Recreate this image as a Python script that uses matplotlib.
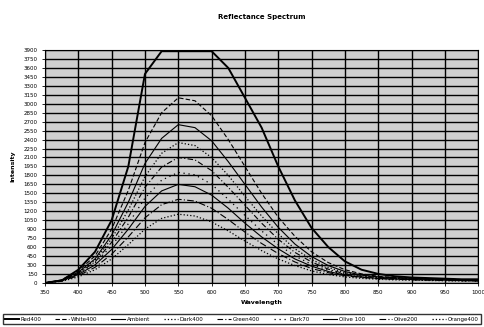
import matplotlib
matplotlib.use('Agg')
import matplotlib.pyplot as plt

# wavelength samples (nm)
wavelength = [350, 375, 400, 425, 450, 475, 500, 525, 550, 575, 600, 625, 650, 675,
              700, 725, 750, 775, 800, 825, 850, 875, 900, 925, 950, 975, 1000]

names = ['Red400', 'White400', 'Ambient', 'Dark400', 'Green400',
         'Dark70', 'Olive 100', 'Olive200', 'Orange400']

s1 = [0, 40, 220, 520, 1050, 1950, 3500, 3880, 3880, 3880, 3880, 3600, 3100, 2600,
      1950, 1380, 920, 600, 360, 220, 150, 110, 90, 80, 70, 60, 60]
s2 = [0, 50, 200, 450, 900, 1550, 2350, 2850, 3100, 3050, 2800, 2400, 1950, 1500,
      1100, 780, 520, 340, 220, 150, 110, 90, 80, 70, 60, 55, 50]
s3 = [0, 45, 180, 400, 800, 1350, 2000, 2420, 2650, 2600, 2380, 2030, 1650, 1270,
      930, 650, 440, 290, 190, 130, 100, 85, 75, 65, 60, 50, 50]
s4 = [0, 40, 170, 380, 740, 1220, 1780, 2170, 2350, 2300, 2100, 1800, 1450, 1120,
      820, 570, 390, 260, 170, 120, 95, 80, 70, 60, 55, 50, 45]
s5 = [0, 40, 160, 350, 680, 1100, 1600, 1940, 2100, 2060, 1880, 1600, 1300, 1000,
      730, 510, 350, 230, 150, 110, 90, 75, 65, 60, 50, 45, 40]
s6 = [0, 35, 150, 330, 620, 990, 1420, 1720, 1850, 1810, 1650, 1400, 1130, 870,
      640, 450, 310, 210, 140, 100, 80, 70, 60, 55, 50, 45, 40]
s7 = [0, 35, 140, 300, 560, 900, 1280, 1540, 1650, 1610, 1470, 1250, 1000, 770,
      570, 400, 280, 190, 130, 95, 75, 65, 55, 50, 45, 40, 35]
s8 = [0, 30, 120, 260, 480, 770, 1090, 1310, 1400, 1370, 1250, 1060, 850, 660,
      490, 350, 240, 170, 120, 90, 70, 60, 50, 45, 40, 35, 30]
s9 = [0, 25, 100, 220, 400, 640, 900, 1080, 1150, 1120, 1020, 870, 700, 540,
      400, 290, 200, 140, 100, 75, 60, 50, 45, 40, 35, 30, 30]

series = [s1, s2, s3, s4, s5, s6, s7, s8, s9]
styles = ['-', (0, (4, 2)), '-', ':', (0, (5, 2, 1, 2)), (0, (1, 3)), '-', (0, (6, 2, 1, 2)), ':']
widths = [1.4, 0.8, 0.8, 0.9, 0.8, 0.9, 0.8, 0.8, 0.9]

fig = plt.figure(figsize=(4.84, 3.27), dpi=100)
ax = fig.add_axes([0.093, 0.135, 0.895, 0.712])
ax.set_facecolor('#cfcfcf')

for vals, name, ls, lw in zip(series, names, styles, widths):
    ax.plot(wavelength, vals, color='black', linestyle=ls, linewidth=lw, label=name)

ax.set_xlim(350, 1000)
ax.set_ylim(0, 3900)
ax.set_xticks(range(350, 1001, 50))
ax.set_yticks(range(0, 3901, 150))
ax.grid(True, color='black', linewidth=1.0)
ax.tick_params(labelsize=4, length=2, width=0.6)
for sp in ax.spines.values():
    sp.set_linewidth(0.8)

ax.set_title('Reflectance Spectrum', fontsize=5, fontweight='bold', pad=22)
ax.set_xlabel('Wavelength', fontsize=4.5, fontweight='bold', labelpad=3)
ax.set_ylabel('Intensity', fontsize=4.5, fontweight='bold', labelpad=6)

fig.legend(loc='lower left', bbox_to_anchor=(0.0, 0.0, 1.0, 0.045), mode='expand',
           ncol=9, fontsize=4, frameon=True, fancybox=False, edgecolor='black',
           handlelength=2.5, handletextpad=0.3, columnspacing=0.5, borderpad=0.45)

plt.savefig('out.png', dpi=100)
